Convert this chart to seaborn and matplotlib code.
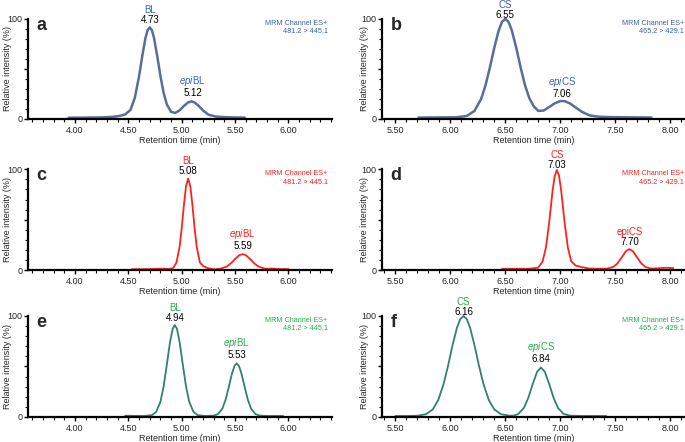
import numpy as np
import pandas as pd
import matplotlib
matplotlib.use("Agg")
import matplotlib.pyplot as plt
from matplotlib.ticker import MultipleLocator, FixedLocator, FuncFormatter
import seaborn as sns

# chromatogram traces (retention time in min, relative intensity in %)
a_time = [3.94, 4.10, 4.25, 4.35, 4.42, 4.47, 4.52, 4.56, 4.60, 4.63, 4.66, 4.68, 4.70, 4.72, 4.74, 4.77,
          4.80, 4.83, 4.86, 4.90, 4.94, 4.98, 5.02, 5.06, 5.09, 5.12, 5.16, 5.20, 5.25, 5.32, 5.40, 5.48, 5.59]
a_signal = [1.2, 1.3, 1.5, 2.0, 3.0, 4.5, 9.0, 21.0, 42.7, 63.0, 81.0, 88.7, 91.5, 88.7, 81.0, 63.0,
            43.0, 26.0, 14.5, 7.0, 6.0, 8.6, 12.9, 16.5, 17.5, 16.5, 12.9, 8.4, 4.2, 2.3, 1.8, 1.5, 1.3]

b_time = [5.71, 5.90, 6.05, 6.15, 6.22, 6.28, 6.32, 6.36, 6.40, 6.44, 6.47, 6.50, 6.53, 6.56, 6.60, 6.64,
          6.68, 6.72, 6.76, 6.80, 6.85, 6.90, 6.95, 7.00, 7.04, 7.09, 7.14, 7.20, 7.27, 7.35, 7.45, 7.60, 7.83]
b_signal = [1.3, 1.5, 1.6, 2.9, 8.0, 19.8, 33.5, 51.4, 71.1, 88.4, 97.0, 100.0, 97.0, 88.4, 71.1, 51.4,
            33.5, 20.5, 12.5, 8.0, 8.4, 11.9, 15.5, 17.8, 17.8, 15.4, 11.5, 6.9, 3.4, 2.2, 1.8, 1.6, 1.4]

c_time = [4.53, 4.65, 4.75, 4.82, 4.88, 4.92, 4.95, 4.98, 5.00, 5.02, 5.04, 5.06, 5.08, 5.10, 5.12, 5.14,
          5.17, 5.20, 5.24, 5.30, 5.36, 5.42, 5.46, 5.50, 5.54, 5.57, 5.60, 5.64, 5.68, 5.72, 5.78, 5.85,
          5.92, 6.00]
c_signal = [0.8, 0.9, 1.2, 1.4, 1.0, 2.1, 7.3, 23.2, 42.0, 64.4, 83.3, 90.8, 83.3, 64.4, 42.0, 23.2,
            7.5, 4.0, 2.0, 0.8, 1.3, 3.4, 6.6, 11.0, 14.8, 15.8, 14.8, 11.0, 6.6, 3.4, 1.3, 1.5,
            1.0, 1.0]

d_time = [6.47, 6.60, 6.72, 6.80, 6.84, 6.87, 6.90, 6.93, 6.95, 6.97, 6.99, 7.01, 7.04, 7.07, 7.10, 7.14,
          7.19, 7.26, 7.35, 7.43, 7.48, 7.52, 7.56, 7.60, 7.63, 7.66, 7.70, 7.74, 7.78, 7.83, 7.90, 7.96,
          8.03]
d_signal = [1.2, 1.3, 1.3, 2.4, 8.6, 22.3, 47.3, 78.0, 93.3, 99.3, 93.3, 78.0, 47.3, 22.3, 8.8, 4.5,
            3.0, 1.6, 1.3, 1.5, 2.9, 6.4, 12.6, 18.9, 20.8, 18.9, 12.6, 6.4, 2.9, 1.5, 1.8, 2.3,
            2.0]

e_time = [4.47, 4.55, 4.65, 4.72, 4.76, 4.80, 4.83, 4.86, 4.89, 4.915, 4.935, 4.955, 4.98, 5.01, 5.04,
          5.07, 5.11, 5.15, 5.22, 5.30, 5.34, 5.38, 5.41, 5.44, 5.47, 5.495, 5.515, 5.535, 5.56, 5.59,
          5.62, 5.65, 5.69, 5.73, 5.80, 5.88, 5.95]
e_signal = [1.3, 1.1, 1.0, 1.8, 5.0, 15.0, 30.2, 51.7, 74.2, 87.4, 91.0, 87.4, 74.2, 51.7, 30.2,
            15.0, 5.0, 1.8, 1.0, 1.35, 2.9, 8.2, 16.8, 29.3, 42.8, 50.8, 53.0, 50.8, 42.8, 29.3,
            16.8, 8.2, 2.9, 1.35, 1.0, 1.0, 1.0]

f_time = [5.50, 5.60, 5.70, 5.78, 5.84, 5.89, 5.94, 5.98, 6.02, 6.06, 6.09, 6.12, 6.15, 6.18, 6.22, 6.26,
          6.30, 6.35, 6.40, 6.46, 6.54, 6.58, 6.62, 6.67, 6.71, 6.75, 6.79, 6.825, 6.86, 6.90, 6.94, 6.98,
          7.03, 7.09, 7.20, 7.30, 7.42]
f_signal = [1.0, 1.0, 1.2, 2.8, 7.5, 16.8, 33.2, 51.1, 71.0, 88.3, 96.9, 100.0, 96.9, 88.3, 71.0, 51.1,
            33.2, 16.8, 7.5, 2.8, 1.2, 1.4, 3.1, 9.0, 19.0, 32.6, 44.8, 49.0, 44.8, 32.6, 19.0, 9.0,
            3.1, 1.3, 1.0, 1.0, 1.0]

# peak annotations: name, reported retention time, label anchor (x, y)
a_peaks = [("BL", "4.73", 4.70, 94), (r"$\it{epi}$BL", "5.12", 5.10, 21)]
b_peaks = [("CS", "6.55", 6.50, 99), (r"$\it{epi}$CS", "7.06", 7.02, 20)]
c_peaks = [("BL", "5.08", 5.06, 93), (r"$\it{epi}$BL", "5.59", 5.57, 19)]
d_peaks = [("CS", "7.03", 6.97, 99), ("epiCS", "7.70", 7.63, 23)]
e_peaks = [("BL", "4.94", 4.935, 93), (r"$\it{epi}$BL", "5.53", 5.515, 56)]
f_peaks = [("CS", "6.16", 6.12, 99), (r"$\it{epi}$CS", "6.84", 6.825, 52)]

bl_channel = "MRM Channel ES+\n481.2 > 445.1"
cs_channel = "MRM Channel ES+\n465.2 > 429.1"

sns.set_style("ticks")
plt.rcParams["font.family"] = ["Liberation Sans", "DejaVu Sans"]
plt.rcParams["mathtext.fontset"] = "custom"
plt.rcParams["mathtext.rm"] = "Liberation Sans"
plt.rcParams["mathtext.it"] = "Liberation Sans:italic"

blue_line, blue_text = "#5a6c99", "#3b62b0"
red_line, red_text = "#ff2020", "#ff2020"
green_line, green_text = "#2f8270", "#26ad4c"

panels = [
    ("a", a_time, a_signal, a_peaks, bl_channel, blue_line, blue_text, 1.8, [0.041, 0.731, 0.444, 0.2262]),
    ("b", b_time, b_signal, b_peaks, cs_channel, blue_line, blue_text, 1.8, [0.558, 0.731, 0.441, 0.2262]),
    ("c", c_time, c_signal, c_peaks, bl_channel, red_line, red_text, 1.3, [0.041, 0.389, 0.444, 0.228]),
    ("d", d_time, d_signal, d_peaks, cs_channel, red_line, red_text, 1.3, [0.558, 0.389, 0.441, 0.228]),
    ("e", e_time, e_signal, e_peaks, bl_channel, green_line, green_text, 1.3, [0.041, 0.0566, 0.444, 0.2285]),
    ("f", f_time, f_signal, f_peaks, cs_channel, green_line, green_text, 1.3, [0.558, 0.0566, 0.441, 0.2285]),
]

fig = plt.figure(figsize=(6.85, 4.42), dpi=100)

for i, (letter, t, s, peaks, channel, lc, tc, lw, pos) in enumerate(panels):
    ax = fig.add_axes(pos)
    df = pd.DataFrame({"time": t, "signal": s})
    sns.lineplot(data=df, x="time", y="signal", color=lc, linewidth=lw, ax=ax, clip_on=False)
    left = i % 2 == 0
    if left:
        ax.set_xlim(3.56, 6.41)
        ax.xaxis.set_major_locator(FixedLocator([4.0, 4.5, 5.0, 5.5, 6.0]))
    else:
        ax.set_xlim(5.38, 8.13)
        ax.xaxis.set_major_locator(FixedLocator([5.5, 6.0, 6.5, 7.0, 7.5, 8.0]))
    ax.xaxis.set_minor_locator(MultipleLocator(0.1))
    ax.xaxis.set_major_formatter(FuncFormatter(lambda v, p: f"{v:.2f}"))
    ax.set_ylim(0, 100)
    ax.yaxis.set_major_locator(FixedLocator([0, 50, 100]))
    ax.yaxis.set_minor_locator(MultipleLocator(10))
    ax.yaxis.set_major_formatter(FuncFormatter(lambda v, p: "" if v == 50 else f"{v:.0f}"))
    ax.tick_params(axis="both", which="major", labelsize=6.5, length=3, width=1, pad=2, color="black")
    ax.tick_params(axis="both", which="minor", length=2, width=0.8, color="black")
    ax.tick_params(axis="y", which="major", pad=1)
    for side in ["top", "right"]:
        ax.spines[side].set_visible(False)
    for side in ["left", "bottom"]:
        ax.spines[side].set_linewidth(1.6)
        ax.spines[side].set_color("black")
    ax.set_xlabel("Retention time (min)", fontsize=6.5, labelpad=1)
    ax.set_ylabel("Relative intensity (%)", fontsize=6.5)
    ax.yaxis.set_label_coords(-0.054 if left else -0.045, 0.5)

    ax.text(0.028, 1.02, letter, transform=ax.transAxes, fontsize=13, fontweight="bold",
            ha="left", va="top")
    ax.text(0.985 if left else 1.0, 0.99, channel, transform=ax.transAxes, fontsize=5.2,
            color=tc, ha="right", va="top", linespacing=1.3)
    for name, rt, px, py in peaks:
        ax.text(px, py, rt, fontsize=7, color="black", ha="center", va="bottom")
        ax.text(px, py + 10, name, fontsize=7, color=tc, ha="center", va="bottom")

fig.savefig("out.png", dpi=100)
plt.close()
